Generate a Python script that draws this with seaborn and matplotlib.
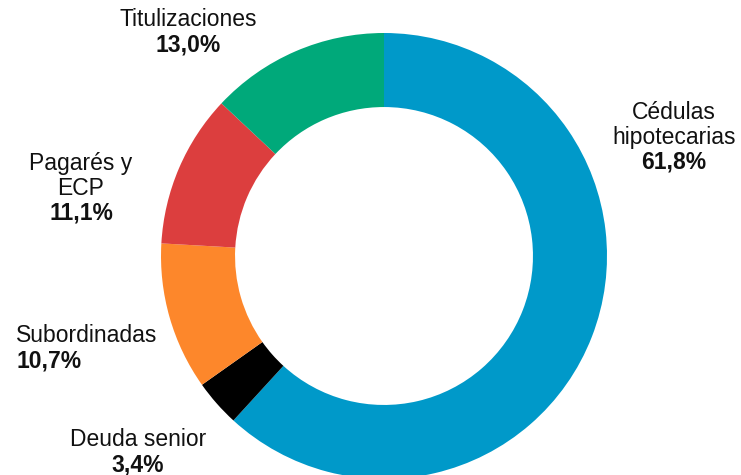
import matplotlib
matplotlib.use("Agg")
import matplotlib.pyplot as plt
import seaborn as sns

# Composition of issuance by instrument type (share of total, %)
categories = ["Cédulas\nhipotecarias", "Deuda senior", "Subordinadas", "Pagarés y\nECP", "Titulizaciones"]
shares = [61.8, 3.4, 10.7, 11.1, 13.0]
share_labels = ["61,8%", "3,4%", "10,7%", "11,1%", "13,0%"]
palette_hex = ["#0099C9", "#000000", "#FD872B", "#DC3E3E", "#00A97A"]

sns.set_theme(style="white")
plt.rcParams["font.family"] = ["Liberation Sans", "DejaVu Sans"]
colors = sns.color_palette(palette_hex)

W, H = 741, 475
fig = plt.figure(figsize=(W / 100, H / 100), dpi=100)
ax = fig.add_axes([0, 0, 1, 1])

cx, cy, R = 384, H - 256, 223
ax.pie(shares, colors=colors, startangle=90, counterclock=False,
       center=(cx, cy), radius=R, frame=True,
       wedgeprops=dict(width=R * 0.332, linewidth=0))
ax.set_xlim(0, W)
ax.set_ylim(0, H)
ax.set_aspect("equal")
ax.axis("off")

fs = 16.5
# label blocks: (name centre, alignment, value centre), pixels from top-left
placements = [
    ((674, 125), "center", (674, 162)),
    ((138, 440), "center", (138, 465)),
    ((16, 335), "left", (16, 361)),
    ((81, 176), "center", (81, 213)),
    ((188, 19), "center", (188, 45)),
]
for name, val, (npos, ha, vpos) in zip(categories, share_labels, placements):
    ax.text(npos[0], H - npos[1], name, ha=ha, va="center", fontsize=fs,
            color="#111111", linespacing=1.15)
    ax.text(vpos[0], H - vpos[1], val, ha=ha, va="center", fontsize=fs,
            fontweight="bold", color="#111111")

fig.savefig("out.png", dpi=100)
